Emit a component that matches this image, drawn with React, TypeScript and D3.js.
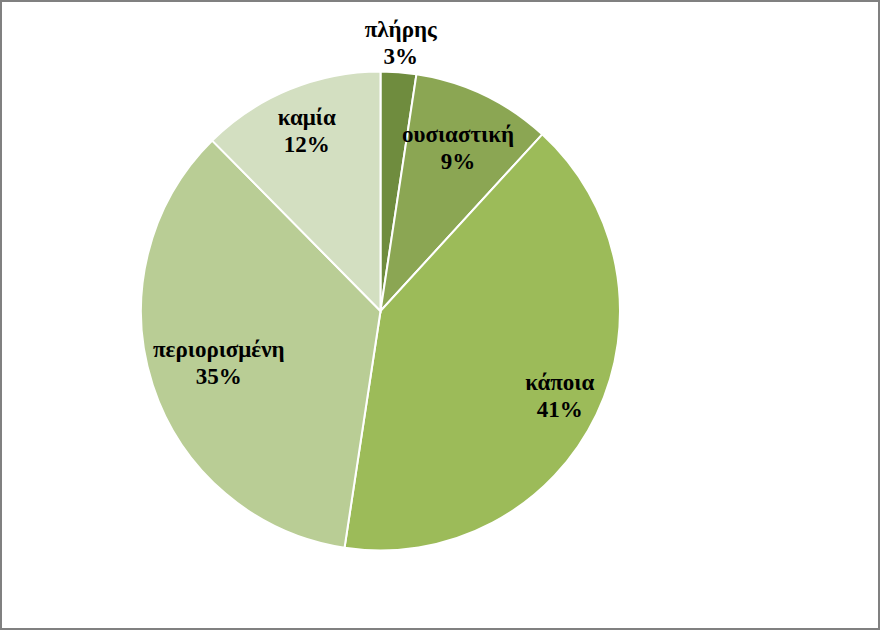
import React from "react";
import * as d3 from "d3";

const categories = ["πλήρης", "ουσιαστική", "κάποια", "περιορισμένη", "καμία"];
const values = [2.4, 9.4, 40.6, 35.2, 12.4];
const percentLabels = ["3%", "9%", "41%", "35%", "12%"];

const colors = ["#6f8c3e", "#8ba653", "#9cbb59", "#b9cd95", "#d3dfc1"];
const labelRadiusFactor = [1.12, 0.75, 0.83, 0.71, 0.81];

const W = 880;
const H = 630;
const cx = 380.5;
const cy = 311;
const R = 239.5;

export default function App() {
  const pie = d3.pie<number>().sort(null).value((d) => d)(values);
  const arc = d3.arc<d3.PieArcDatum<number>>().innerRadius(0).outerRadius(R);
  return (
    <div style={{ position: "fixed", left: 0, top: 0 }}>
      <svg width={W} height={H} style={{ display: "block" }}>
        <rect x={1} y={1} width={W - 2} height={H - 2} fill="#fff" stroke="#808080" strokeWidth={2} />
        <g transform={`translate(${cx},${cy})`}>
          {pie.map((p, i) => (
            <path key={i} d={arc(p) || ""} fill={colors[i]} stroke="#fff" strokeWidth={2} />
          ))}
          {pie.map((p, i) => {
            const a = (p.startAngle + p.endAngle) / 2;
            const r = R * labelRadiusFactor[i];
            const x = Math.sin(a) * r;
            const y = -Math.cos(a) * r;
            return (
              <text
                key={"t" + i}
                textAnchor="middle"
                fontFamily="'Liberation Serif', 'Times New Roman', serif"
                fontWeight="bold"
                fontSize={23}
                fill="#000"
              >
                <tspan x={x} y={y - 7}>{categories[i]}</tspan>
                <tspan x={x} y={y + 20}>{percentLabels[i]}</tspan>
              </text>
            );
          })}
        </g>
      </svg>
    </div>
  );
}
